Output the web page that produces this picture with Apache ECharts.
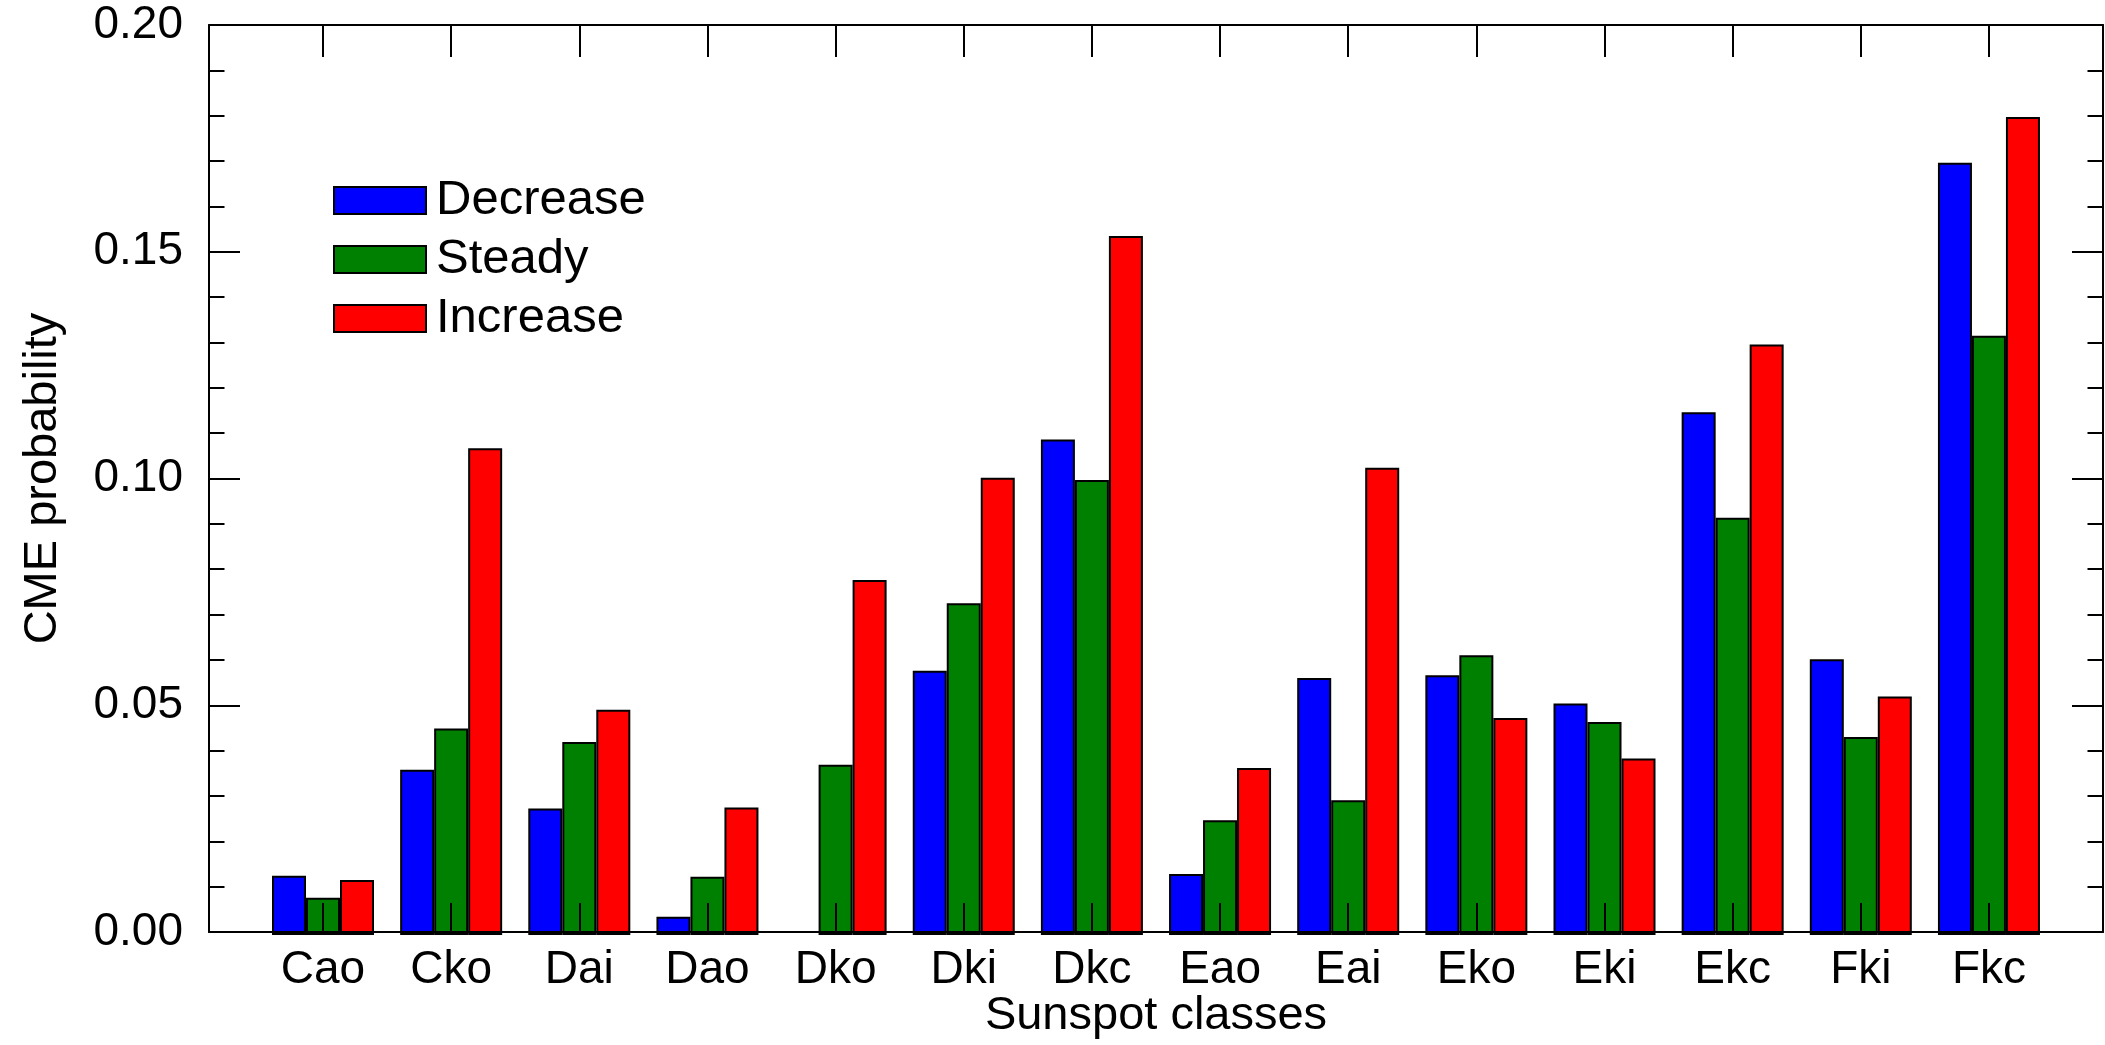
<!DOCTYPE html>
<html>
<head>
<meta charset="utf-8">
<title>CME probability by sunspot class</title>
<script src="https://cdn.jsdelivr.net/npm/echarts@6/dist/echarts.min.js"></script>
<style>
  html, body { margin: 0; padding: 0; background: #ffffff; }
  #chart { width: 2105px; height: 1045px; }
</style>
</head>
<body>
<div id="chart"></div>
<script>
// Sunspot classes along the horizontal axis
const categories = ['Cao', 'Cko', 'Dai', 'Dao', 'Dko', 'Dki', 'Dkc', 'Eao', 'Eai', 'Eko', 'Eki', 'Ekc', 'Fki', 'Fkc'];

// CME probability per class, split by sunspot-area evolution
const decrease = [0.0130, 0.0363, 0.0278, 0.0040, 0.0000, 0.0581, 0.1089, 0.0134, 0.0565, 0.0571, 0.0509, 0.1149, 0.0606, 0.1697];
const steady   = [0.0082, 0.0454, 0.0424, 0.0128, 0.0374, 0.0729, 0.1000, 0.0252, 0.0296, 0.0615, 0.0468, 0.0917, 0.0435, 0.1317];
const increase = [0.0121, 0.1070, 0.0495, 0.0280, 0.0780, 0.1005, 0.1536, 0.0367, 0.1027, 0.0477, 0.0388, 0.1298, 0.0524, 0.1798];

// Vertical axis range and labelled tick step
const yMin = 0;
const yMax = 0.20;
const yStep = 0.05;

const seriesNames = ['Decrease', 'Steady', 'Increase'];
const seriesColors = ['#0000ff', '#008000', '#ff0000'];

const FONT = '"Liberation Sans", Arial, Helvetica, sans-serif';
const INK = '#000000';

// Frame geometry: outer box, and the inner band area holding the 14 classes
const frame = { left: 209, top: 25, width: 1894, height: 910 };
const bandWidth = 128.15;
const firstCenter = 323;
const inner = {
  left: firstCenter - bandWidth / 2,
  top: frame.top,
  width: bandWidth * categories.length,
  height: frame.height
};

const lineStyle = { color: INK, width: 2 };

function valueAxis(gridIndex, position, showLabels) {
  return {
    type: 'value',
    gridIndex: gridIndex,
    position: position,
    min: yMin,
    max: yMax,
    interval: yStep,
    splitLine: { show: false },
    axisLine: { show: gridIndex === 0, onZero: false, lineStyle: lineStyle },
    axisTick: { show: gridIndex === 0, inside: true, length: 31, lineStyle: lineStyle },
    minorTick: { show: gridIndex === 0, splitNumber: 5, length: 15.5, lineStyle: lineStyle },
    axisLabel: {
      show: showLabels,
      margin: 26,
      fontFamily: FONT,
      fontSize: 46,
      color: INK,
      formatter: v => v.toFixed(2)
    },
    z: 10
  };
}

// A zero-height bar gets no outline, so nothing shows below the baseline
function barData(values) {
  return values.map(v => (v === 0 ? { value: v, itemStyle: { borderWidth: 0 } } : v));
}

const option = {
  backgroundColor: '#ffffff',
  animation: false,
  textStyle: { fontFamily: FONT },
  grid: [
    { left: frame.left, top: frame.top, width: frame.width, height: frame.height, containLabel: false },
    { left: inner.left, top: inner.top, width: inner.width, height: inner.height, containLabel: false }
  ],
  legend: {
    orient: 'vertical',
    left: 328,
    top: 171,
    itemWidth: 92,
    itemHeight: 27,
    itemGap: 10,
    icon: 'rect',
    data: seriesNames,
    textStyle: { fontFamily: FONT, fontSize: 49, color: INK, lineHeight: 46, padding: [0, 0, 0, 5] }
  },
  xAxis: [
    // outer frame: bottom edge carries the axis title
    {
      type: 'value', gridIndex: 0, position: 'bottom', min: 0, max: 1,
      axisLine: { show: true, onZero: false, lineStyle: lineStyle },
      axisTick: { show: false }, axisLabel: { show: false }, splitLine: { show: false },
      name: 'Sunspot classes', nameLocation: 'middle', nameGap: 61,
      nameTextStyle: { fontFamily: FONT, fontSize: 47, color: INK },
      z: 10
    },
    // outer frame: top edge
    {
      type: 'value', gridIndex: 0, position: 'top', min: 0, max: 1,
      axisLine: { show: true, onZero: false, lineStyle: lineStyle },
      axisTick: { show: false }, axisLabel: { show: false }, splitLine: { show: false },
      z: 10
    },
    // class axis with labels and inward ticks at the bottom
    {
      type: 'category', gridIndex: 1, position: 'bottom', data: categories,
      axisLine: { show: false },
      axisTick: { show: true, inside: true, alignWithLabel: true, length: 32, lineStyle: lineStyle },
      axisLabel: { margin: 12, fontFamily: FONT, fontSize: 46, color: INK },
      splitLine: { show: false },
      z: 10
    },
    // matching inward ticks along the top
    {
      type: 'category', gridIndex: 1, position: 'top', data: categories,
      axisLine: { show: false },
      axisTick: { show: true, inside: true, alignWithLabel: true, length: 32, lineStyle: lineStyle },
      axisLabel: { show: false },
      splitLine: { show: false },
      z: 10
    }
  ],
  yAxis: [
    Object.assign(valueAxis(0, 'left', true), {
      name: 'CME probability', nameLocation: 'middle', nameGap: 142, nameRotate: 90,
      nameTextStyle: { fontFamily: FONT, fontSize: 47, color: INK }
    }),
    valueAxis(0, 'right', false),
    Object.assign(valueAxis(1, 'left', false), { show: false })
  ],
  series: [decrease, steady, increase].map((values, i) => ({
    name: seriesNames[i],
    type: 'bar',
    xAxisIndex: 2,
    yAxisIndex: 2,
    data: barData(values),
    barWidth: 34,
    barGap: '0%',
    itemStyle: { color: seriesColors[i], borderColor: INK, borderWidth: 2 },
    emphasis: { disabled: true }
  }))
};

const chart = echarts.init(document.getElementById('chart'), null, { renderer: 'canvas' });
chart.setOption(option);
</script>
</body>
</html>
